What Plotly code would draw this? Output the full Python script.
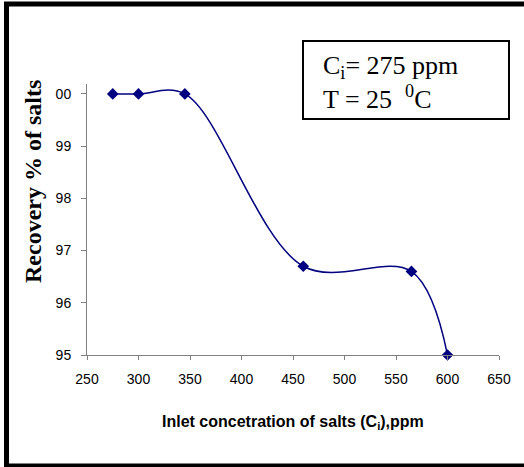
import plotly.graph_objects as go

conc = [275, 300, 345, 460, 565, 600]
recovery = [100.0, 100.0, 100.0, 96.7, 96.6, 95.0]
x_ticks = [250, 300, 350, 400, 450, 500, 550, 600, 650]
y_ticks = [95, 96, 97, 98, 99, 100]
y_ticktext = ["95", "96", "97", "98", "99", "00"]

W, H = 524, 467
L, R, T, B = 87, 25, 84, 112
pw, ph = W - L - R, H - T - B

def px(x):
    return (x - L) / pw

def py(y):
    return (H - B - y) / ph

narrow = "Liberation Sans Narrow, Arial Narrow, Liberation Sans, Arial, sans-serif"
serif = "Liberation Serif, Times New Roman, serif"

fig = go.Figure()
fig.add_trace(go.Scatter(
    x=conc, y=recovery, mode="lines+markers",
    line=dict(color="#000080", width=1.5, shape="spline", smoothing=1),
    marker=dict(symbol="diamond", size=9, color="#000080"),
    showlegend=False, cliponaxis=False,
))

fig.update_layout(
    width=W, height=H,
    margin=dict(l=L, r=R, t=T, b=B),
    paper_bgcolor="white", plot_bgcolor="white",
    xaxis=dict(range=[250, 650], tickvals=x_ticks, showgrid=False, zeroline=False,
               showline=True, linecolor="#808080", linewidth=1,
               ticks="outside", ticklen=4, tickcolor="#808080",
               tickfont=dict(family=narrow, size=14, color="black"),
               ticklabelstandoff=7),
    yaxis=dict(range=[95, 100.19], tickvals=y_ticks, ticktext=y_ticktext,
               showgrid=False, zeroline=False,
               showline=True, linecolor="#808080", linewidth=1,
               ticks="outside", ticklen=5, tickcolor="#808080",
               tickfont=dict(family=narrow, size=14, color="black"),
               ticklabelstandoff=7),
    shapes=[
        dict(type="rect", xref="paper", yref="paper",
             x0=px(6.5), x1=px(532), y0=py(466), y1=py(4),
             line=dict(color="black", width=5), fillcolor="rgba(0,0,0,0)", layer="above"),
        dict(type="rect", xref="paper", yref="paper",
             x0=px(303), x1=px(509), y0=py(119), y1=py(41),
             line=dict(color="black", width=2), fillcolor="white", layer="above"),
    ],
    annotations=[
        dict(text="<b>Recovery % of salts</b>", xref="paper", yref="paper",
             x=px(33), y=py(182), textangle=-90, showarrow=False,
             font=dict(family=serif, size=24, color="black"),
             xanchor="center", yanchor="middle"),
        dict(text="<b>Inlet concetration of salts (C<sub>i</sub>),ppm</b>",
             xref="paper", yref="paper", x=px(293), y=py(422), showarrow=False,
             font=dict(family=narrow, size=16, color="black"),
             xanchor="center", yanchor="middle"),
        dict(text="C<sub>i</sub>= 275 ppm", xref="paper", yref="paper",
             x=px(321), y=py(67), showarrow=False, xanchor="left", yanchor="middle",
             font=dict(family=serif, size=26, color="black")),
        dict(text="T = 25  <sup>0</sup>C", xref="paper", yref="paper",
             x=px(321), y=py(97), showarrow=False, xanchor="left", yanchor="middle",
             font=dict(family=serif, size=26, color="black")),
    ],
)

fig.write_html("out.html", config={"displayModeBar": False},
               post_script="document.body.style.margin='0';document.body.style.padding='0';")
